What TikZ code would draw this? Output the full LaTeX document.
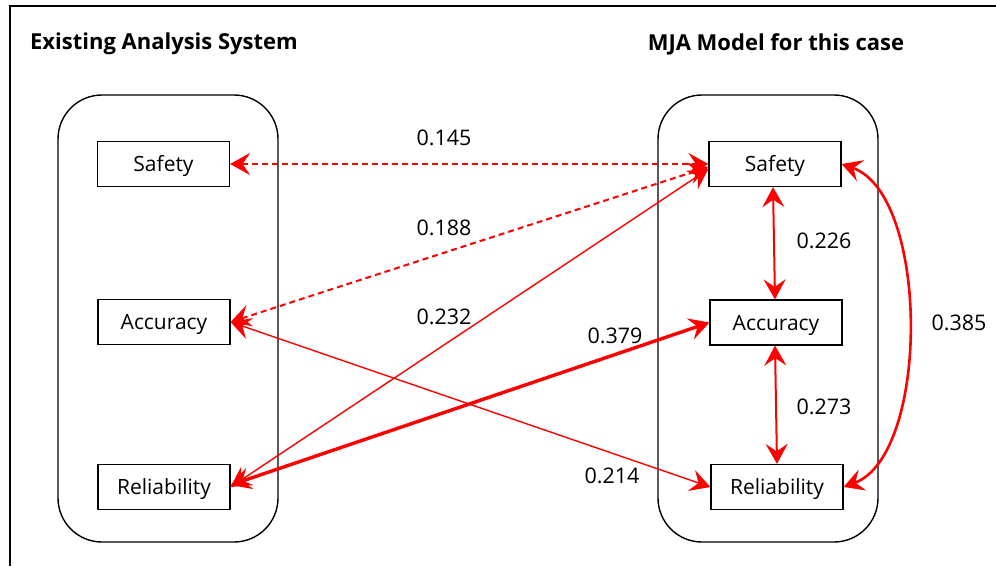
\documentclass[tikz,border=0pt]{standalone}
\usepackage{fontspec}
\setmainfont{Open Sans}
\usetikzlibrary{arrows.meta}
\begin{document}
\begin{tikzpicture}[x=1pt,y=-1pt,
  box/.style={draw, line width=1.2pt, minimum width=132pt, minimum height=45pt,
    inner sep=0pt, text height=15pt, text depth=0pt, font=\fontsize{21}{24}\selectfont},
  group/.style={draw, line width=1.4pt, rounded corners=44pt, minimum width=220pt,
    minimum height=447pt, inner sep=0pt},
  heading/.style={font=\bfseries\fontsize{22}{26}\selectfont},
  val/.style={font=\fontsize{21.5}{24}\selectfont},
  tip/.tip={Stealth[length=20pt,width=22pt,inset=7.5pt]},
  link/.style={red, line width=1.4pt, tip-tip},
  dlink/.style={link, line width=2pt, dash pattern=on 6pt off 4pt},
  blink/.style={link, line width=3.4pt},
  vlink/.style={link, line width=2pt},
]
\useasboundingbox (0,0) rectangle (996,566);
% outer frame
\draw[line width=2pt] (996,6) -- (10,6) -- (10,566);

% headings
\node[heading] (h1) at (164,44) {Existing Analysis System};
\node[heading] (h2) at (776,44) {MJA Model for this case};

% the two groups
\node[group] (lg) at (168,318.5) {};
\node[group] (rg) at (768,318.5) {};

% left boxes
\node[box] (ls) at (163.5,164) {Safety};
\node[box] (la) at (164,322) {Accuracy};
\node[box] (lr) at (164,487) {Reliability};
% right boxes
\node[box] (rs) at (775,164) {Safety};
\node[box] (ra) at (776,322.5) {Accuracy};
\node[box] (rr) at (777,487) {Reliability};

% links between the two systems
\draw[dlink] (ls.east) -- (rs.west);
\draw[dlink] (la.east) -- ([yshift=-3pt]rs.west);
\draw[link] (lr.east) -- ([yshift=-5pt]rs.west);
\draw[blink] ([yshift=2pt]lr.east) -- (ra.west);
\draw[link] (la.east) -- (rr.west);

% links inside the model
\draw[vlink] ([xshift=-2pt]rs.south) -- ([xshift=-1pt]ra.north);
\draw[vlink] ([xshift=-1pt]ra.south) -- (rr.north);
\draw[link, line width=2.6pt] (rs.east) .. controls (930,195) and (930,455) .. (rr.east);

% values
\node[val] (v1) at (444,138) {0.145};
\node[val] (v2) at (444,228) {0.188};
\node[val] (v3) at (444,317) {0.232};
\node[val] (v4) at (615,336) {0.379};
\node[val] (v5) at (612,476) {0.214};
\node[val] (v6) at (824,241) {0.226};
\node[val] (v7) at (824,407) {0.273};
\node[val] (v8) at (959,323) {0.385};
\end{tikzpicture}
\end{document}
